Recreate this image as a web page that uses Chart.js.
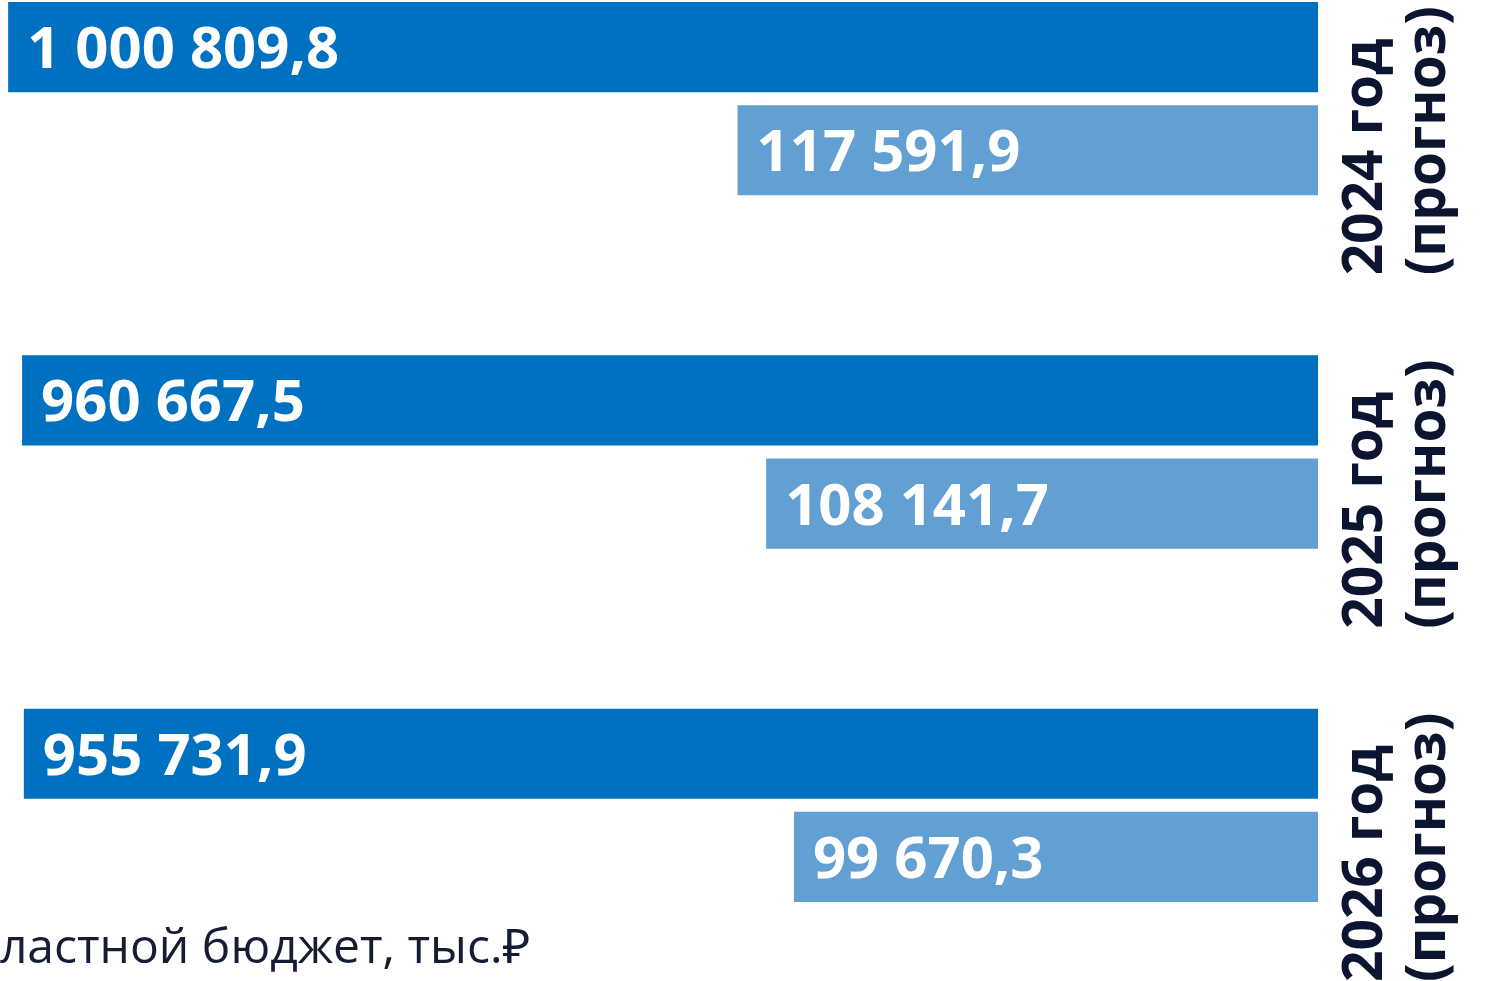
<!DOCTYPE html>
<html lang="ru">
<head>
<meta charset="utf-8">
<title>Бюджет</title>
<script src="https://cdn.jsdelivr.net/npm/chart.js@4.4.1/dist/chart.umd.min.js"></script>
<style>
    html, body { margin: 0; padding: 0; background: #ffffff; overflow: hidden; }
    #page { position: relative; width: 1486px; height: 981px; overflow: hidden; }
    #chartBox { position: absolute; left: 0; top: -78px; width: 1486px; height: 1060px; }
    #legendText {
        position: absolute; top: 912px; left: 0; white-space: nowrap;
        font-family: "Open Sans", "Noto Sans", sans-serif; font-size: 48px; color: #151c33;
    }
</style>
</head>
<body>
<div id="page">
    <div id="chartBox"><canvas id="budgetChart"></canvas></div>
    <div id="legendText"><span id="cutPart">Об</span>ластной бюджет, тыс.₽</div>
</div>
<script>
// values, thousand roubles
const yearLabels = [["2024 год", "(прогноз)"], ["2025 год", "(прогноз)"], ["2026 год", "(прогноз)"]];
const regionalBudget = [1000809.8, 960667.5, 955731.9];
const secondBudget = [117591.9, 108141.7, 99670.3];

const darkBlue = "#0071c1";
const lightBlue = "#629fd3";
const navy = "#0b1530";

// the picture is cropped on the left, hide "Об"
var legend = document.getElementById("legendText");
legend.style.left = (-document.getElementById("cutPart").offsetWidth) + "px";

function formatRu(v) {
    var parts = v.toFixed(1).split(".");
    var intPart = parts[0].replace(/\B(?=(\d{3})+(?!\d))/g, " ");
    return intPart + "," + parts[1];
}

// white numbers inside the bars, near the left end
const barValues = {
    id: "barValues",
    afterDatasetsDraw(chart) {
        var ctx = chart.ctx;
        ctx.save();
        ctx.fillStyle = "#ffffff";
        ctx.font = "bold 58px 'Open Sans', 'Noto Sans', sans-serif";
        ctx.textAlign = "left";
        ctx.textBaseline = "alphabetic";
        chart.data.datasets.forEach(function(ds, di) {
            var meta = chart.getDatasetMeta(di);
            meta.data.forEach(function(bar, i) {
                ctx.fillText(formatRu(ds.data[i]), bar.x + 19, bar.y + 21);
            });
        });
        ctx.restore();
    }
};

var ctx = document.getElementById("budgetChart").getContext("2d");
const budgetChart = new Chart(ctx, {
    type: "bar",
    data: {
        labels: yearLabels,
        datasets: [{
                label: "Областной бюджет, тыс.₽",
                data: regionalBudget,
                backgroundColor: darkBlue,
                borderWidth: 0
            },
            {
                label: "",
                data: secondBudget,
                backgroundColor: lightBlue,
                borderWidth: 0
            }
        ]
    },
    options: {
        indexAxis: "y",
        responsive: true,
        maintainAspectRatio: false,
        animation: false,
        categoryPercentage: 0.584,
        barPercentage: 0.874,
        layout: { padding: 0 },
        plugins: {
            legend: { display: false },
            tooltip: { enabled: false }
        },
        scales: {
            x: {
                type: "logarithmic",
                reverse: true,
                min: 21400,
                max: 1025000,
                display: false
            },
            y: {
                type: "category",
                display: false
            },
            yLabels: {
                type: "category",
                position: "right",
                labels: [""].concat(yearLabels),
                offset: false,
                grid: { display: false },
                border: { display: false },
                ticks: {
                    minRotation: 90,
                    maxRotation: 90,
                    autoSkip: false,
                    padding: 72,
                    color: navy,
                    font: { family: "'Open Sans', 'Noto Sans', sans-serif", size: 55, weight: "bold", lineHeight: 1.15 }
                },
                afterFit: function(scale) {
                    // rotated labels should not shrink the plot area
                    scale.width = 168;
                    scale.paddingTop = 0;
                    scale.paddingBottom = 0;
                }
            }
        }
    },
    plugins: [barValues]
});
</script>
</body>
</html>
